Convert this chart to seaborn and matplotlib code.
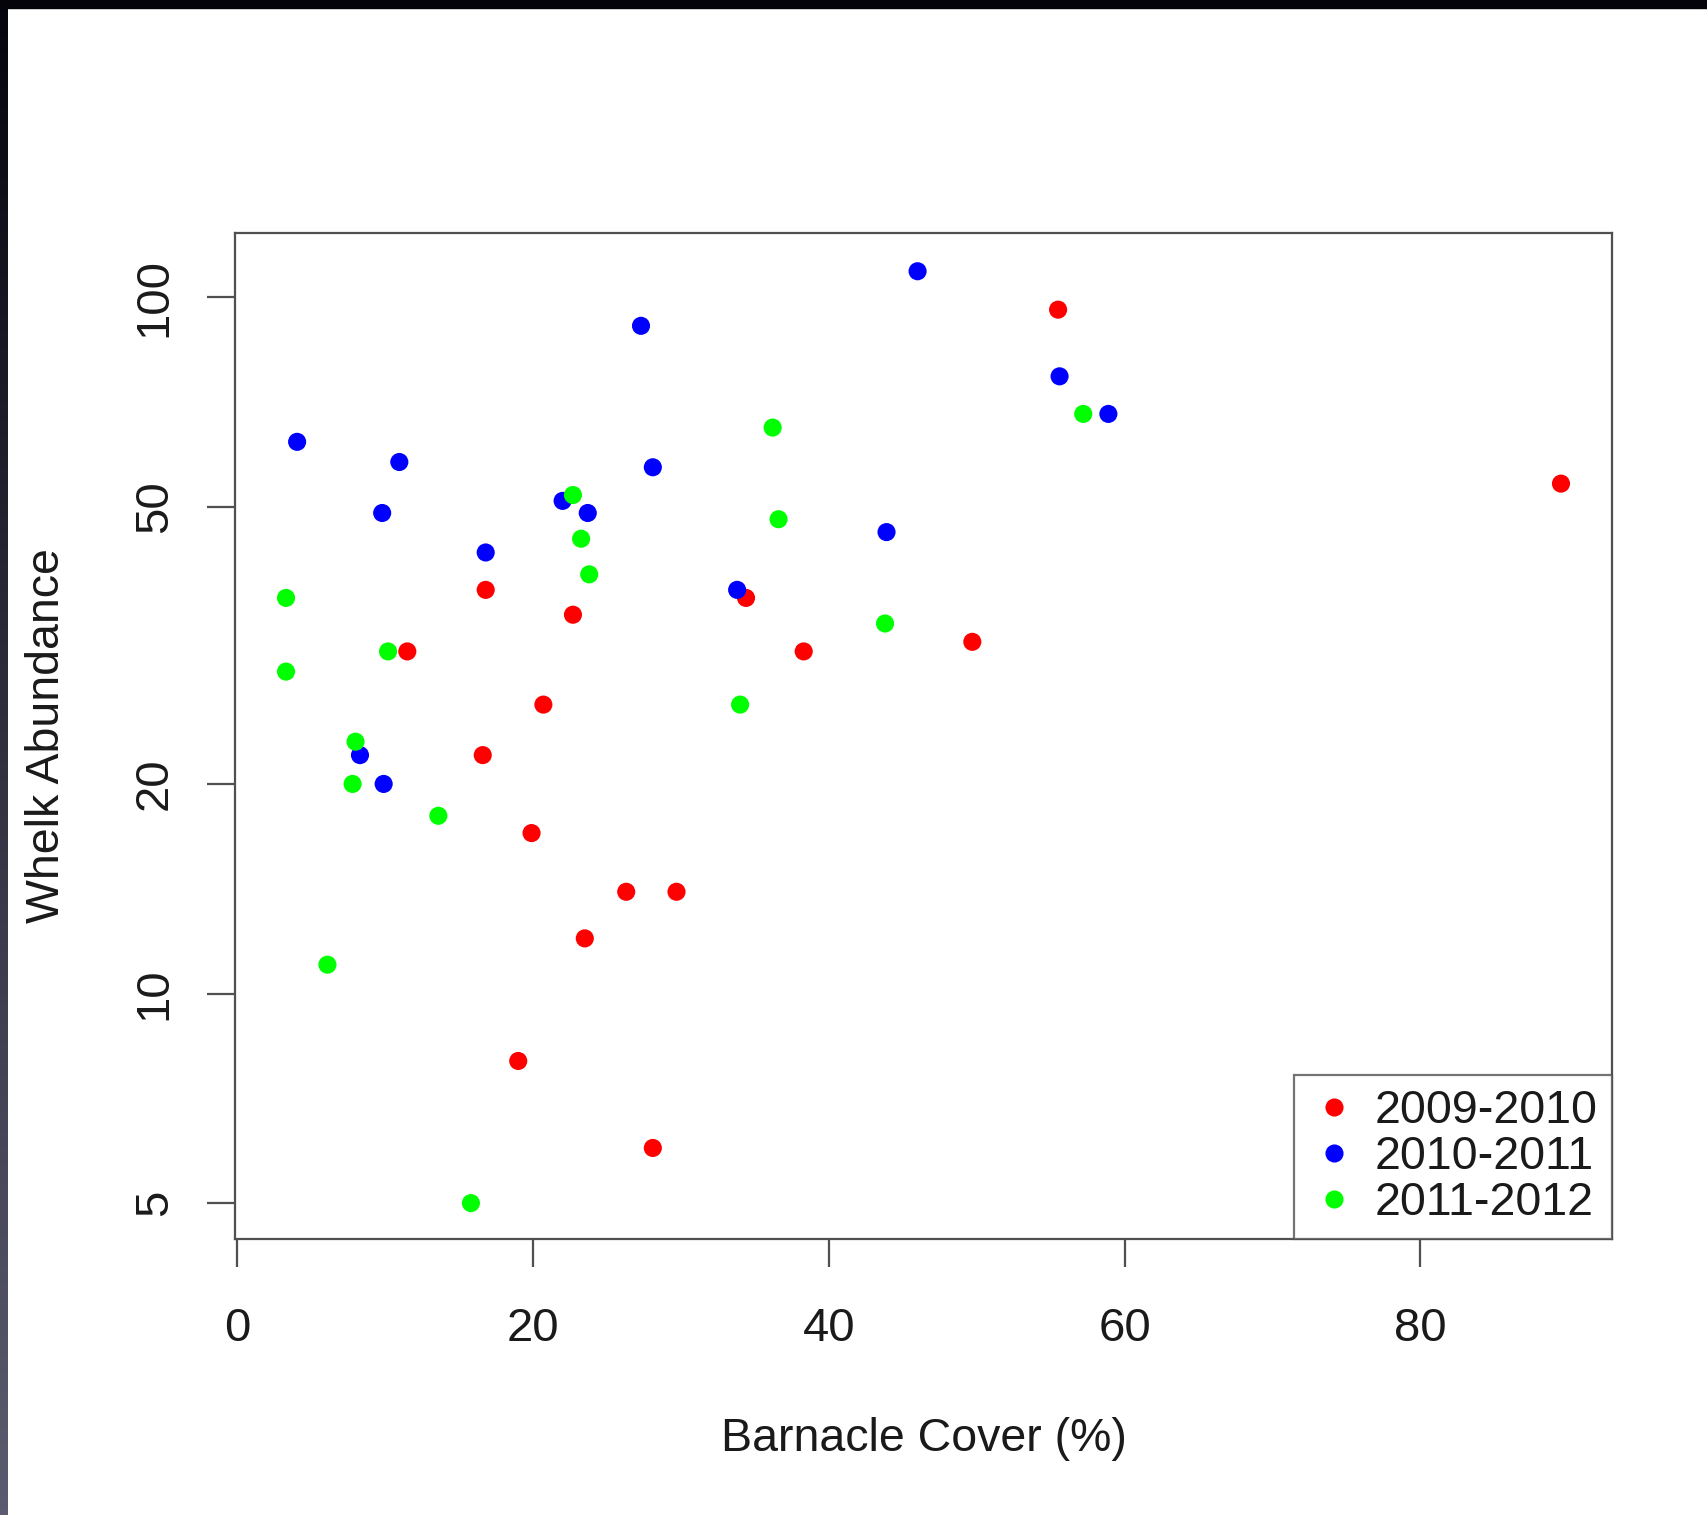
import numpy as np
import pandas as pd
import matplotlib
matplotlib.use("Agg")
import matplotlib.pyplot as plt
from matplotlib.patches import Rectangle
from matplotlib.ticker import FixedLocator, FixedFormatter, NullLocator
import seaborn as sns

# data (barnacle cover %, whelk abundance)
red_x = [55.5, 89.5, 16.8, 22.7, 34.4, 11.5, 38.3, 49.7, 20.7, 16.6, 19.9, 26.3, 29.7, 23.5, 19.0, 28.1]
red_y = [96, 54, 38, 35, 37, 31, 31, 32, 26, 22, 17, 14, 14, 12, 8, 6]
blue_x = [46.0, 27.3, 55.6, 58.9, 4.05, 10.96, 28.1, 9.8, 22.0, 23.7, 43.9, 16.8, 33.8, 8.3, 9.9]
blue_y = [109, 91, 77, 68, 62, 58, 57, 49, 51, 49, 46, 43, 38, 22, 20]
green_x = [57.2, 36.2, 22.7, 36.6, 23.25, 23.8, 3.3, 43.8, 10.2, 3.3, 34.0, 8.0, 7.8, 13.6, 6.1, 15.8]
green_y = [68, 65, 52, 48, 45, 40, 37, 34, 31, 29, 26, 23, 20, 18, 11, 5]

seasons = ["2009-2010", "2010-2011", "2011-2012"]
season_colors = ["#ff0000", "#0000ff", "#00ff00"]
x_ticks = [0, 20, 40, 60, 80]
y_ticks = [5, 10, 20, 50, 100]

df = pd.DataFrame({
    "cover": red_x + blue_x + green_x,
    "whelks": red_y + blue_y + green_y,
    "season": [seasons[0]] * len(red_x) + [seasons[1]] * len(blue_x) + [seasons[2]] * len(green_x),
})

sns.set_style("ticks")
plt.rcParams["font.family"] = ["Liberation Sans", "DejaVu Sans"]
plt.rcParams["font.size"] = 34

fig = plt.figure(figsize=(17.07, 15.15), dpi=100)
fig.patch.set_facecolor("white")

# screenshot frame: black strip on top, dark gradient strip on the left
left = fig.add_axes([0, 0, 8 / 1707, 1])
grad = np.linspace(0, 1, 256).reshape(-1, 1)
left.imshow(grad, aspect="auto", cmap=matplotlib.colors.LinearSegmentedColormap.from_list(
    "frame", ["#5c5c70", "#05050f"]), origin="lower")
left.axis("off")
fig.patches.append(Rectangle((0, 1 - 8 / 1515), 1, 8 / 1515, transform=fig.transFigure,
                             color="#04040a", zorder=10))

ax = fig.add_axes([235 / 1707, 1 - 1239 / 1515, 1377 / 1707, 1006 / 1515])
sns.scatterplot(data=df, x="cover", y="whelks", hue="season", hue_order=seasons,
                palette=season_colors, s=170, linewidth=0, ax=ax)

ax.set_yscale("log")
ax.set_xlim(-0.15, 92.95)
ax.set_ylim(4.44, 123.7)
ax.xaxis.set_major_locator(FixedLocator(x_ticks))
ax.yaxis.set_major_locator(FixedLocator(y_ticks))
ax.yaxis.set_major_formatter(FixedFormatter([str(v) for v in y_ticks]))
ax.yaxis.set_minor_locator(NullLocator())

for side in ax.spines.values():
    side.set_color("#505050")
    side.set_linewidth(1.6)
ax.tick_params(length=20, width=1.6, color="#505050", labelcolor="#1a1a1a", labelsize=34)
ax.tick_params(axis="x", pad=29)
ax.tick_params(axis="y", pad=22, labelrotation=90)
for lab in ax.get_yticklabels():
    lab.set_va("center")

ax.set_xlabel("Barnacle Cover (%)", fontsize=33.5, color="#1a1a1a", va="center")
ax.set_ylabel("Whelk Abundance", fontsize=33.5, color="#1a1a1a", va="center")
ax.xaxis.set_label_coords(0.5, -0.199)
ax.yaxis.set_label_coords(-0.1365, 0.5)

handles, labels = ax.get_legend_handles_labels()
leg = ax.legend(handles, labels, loc="lower right", borderaxespad=0, fancybox=False,
                frameon=True, edgecolor="#505050", fontsize=33.5, labelspacing=0.04,
                handletextpad=0.32, handlelength=1.12, borderpad=0.3, markerscale=1.0)
leg.get_frame().set_linewidth(1.6)
for t in leg.get_texts():
    t.set_color("#1a1a1a")

fig.savefig("out.png", dpi=100)
